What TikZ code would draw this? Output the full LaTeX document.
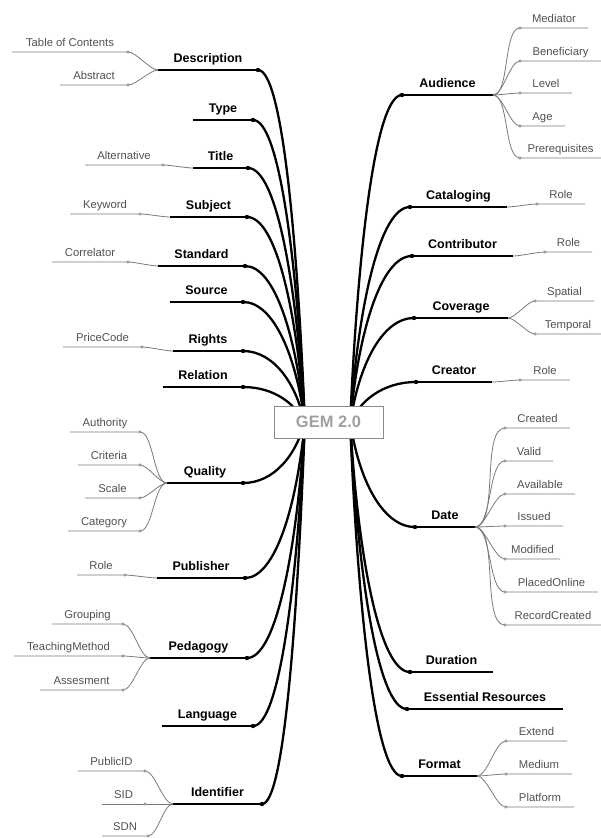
\documentclass[tikz,border=0pt]{standalone}
\usepackage{fontspec}
\setmainfont{Liberation Sans}
\definecolor{subtxt}{HTML}{505050}
\definecolor{subln}{HTML}{7A7A7A}
\definecolor{boxc}{HTML}{8A8A8A}
\definecolor{gemtxt}{HTML}{A0A0A0}
\tikzset{
  mainlbl/.style={anchor=base, inner sep=0pt, font=\fontsize{12.5}{14}\selectfont\bfseries},
  sublbl/.style={anchor=base, inner sep=0pt, text=subtxt, font=\fontsize{11.3}{13}\selectfont},
  mainline/.style={line width=2.2pt, black},
  trunk/.style={line width=2.3pt, black},
  subline/.style={line width=0.8pt, subln},
  sublink/.style={out=0, in=180, looseness=0.6},
  subdot/.style={line width=0.6pt, draw=subln, fill=white},
  gembox/.style={draw=boxc, fill=white, line width=1pt, minimum width=109pt, minimum height=32pt,
    inner sep=0pt, text=gemtxt, font=\fontsize{16.5}{18}\selectfont\bfseries}
}
% left main branch: id, label, x-outer, x-inner, y, hub y
\newcommand\mainL[6]{%
  \coordinate (#1-o) at (#3,#5);
  \coordinate (#1-i) at (#4,#5);
  \coordinate (#1-h) at (305,#6);
  \node[mainlbl] (#1) at ({(#3+#4)/2},{#5-7.5}) {#2};
  \draw[trunk] (#1-i) .. controls +({0.5*(305-#4)},0) and +(-8,{-0.55*(#6-#5)}) .. (#1-h);
  \draw[mainline] (#1-o) -- (#1-i);
  \fill (#1-i) circle (2.2pt);
}
% right main branch: id, label, x-inner, x-outer, y, hub y
\newcommand\mainR[6]{%
  \coordinate (#1-i) at (#3,#5);
  \coordinate (#1-o) at (#4,#5);
  \coordinate (#1-h) at (350,#6);
  \node[mainlbl] (#1) at ({(#3+#4)/2},{#5-7.5}) {#2};
  \draw[trunk] (#1-i) .. controls +({0.5*(350-#3)},0) and +(8,{-0.55*(#6-#5)}) .. (#1-h);
  \draw[mainline] (#1-i) -- (#1-o);
  \fill (#1-i) circle (2.2pt);
}
% left sub branch: id, label, x-outer, x-inner, y, parent
\newcommand\subL[6]{%
  \coordinate (#1-o) at (#3,#5);
  \coordinate (#1-i) at (#4,#5);
  \node[sublbl] (#1) at ({(#3+#4)/2},{#5-6}) {#2};
  \draw[subline] (#1-o) -- (#1-i) to[sublink] (#6-o);
  \draw[subdot] (#1-i) circle (1.3pt);
}
% right sub branch: id, label, x-inner, x-outer, y, parent
\newcommand\subR[6]{%
  \coordinate (#1-i) at (#3,#5);
  \coordinate (#1-o) at (#4,#5);
  \node[sublbl] (#1) at ({(#3+#4)/2},{#5-6}) {#2};
  \draw[subline] (#6-o) to[sublink] (#1-i) -- (#1-o);
  \draw[subdot] (#1-i) circle (1.3pt);
}
\begin{document}
\begin{tikzpicture}[x=1pt,y=-1pt]
\useasboundingbox (0,0) rectangle (601,838);
% left, top
\mainL{D}{Description}{158}{258}{70}{425}
\mainL{Ty}{Type}{193}{253}{120}{425}
\mainL{Ti}{Title}{193}{248}{168}{425}
\mainL{Su}{Subject}{170}{247}{217}{425}
\mainL{St}{Standard}{158}{245}{266}{425}
\mainL{So}{Source}{170}{243}{302}{425}
\mainL{Ri}{Rights}{173}{243}{351}{425}
\mainL{Re}{Relation}{163}{243}{387}{425}
% left, bottom
\mainL{Q}{Quality}{167}{243}{483}{420}
\mainL{Pu}{Publisher}{157}{245}{578}{420}
\mainL{Pe}{Pedagogy}{150}{247}{658}{420}
\mainL{La}{Language}{162}{253}{726}{420}
\mainL{Id}{Identifier}{173}{262}{804}{420}
% right, top
\mainR{Au}{Audience}{402}{493}{95}{425}
\mainR{Ca}{Cataloging}{410}{507}{207}{425}
\mainR{Co}{Contributor}{412}{513}{256}{425}
\mainR{Cv}{Coverage}{414}{508}{318}{425}
\mainR{Cr}{Creator}{416}{492}{382}{425}
% right, bottom
\mainR{Da}{Date}{415}{475}{527}{420}
\mainR{Du}{Duration}{410}{493}{672}{420}
\mainR{Es}{Essential Resources}{407}{563}{709}{420}
\mainR{Fo}{Format}{402}{477}{776}{420}
% left subs
\subL{toc}{Table of Contents}{12}{128}{52}{D}
\subL{abs}{Abstract}{60}{128}{85}{D}
\subL{alt}{Alternative}{85}{163}{165}{Ti}
\subL{kw}{Keyword}{70}{140}{214}{Su}
\subL{cor}{Correlator}{52}{128}{262}{St}
\subL{pc}{PriceCode}{63}{142}{347}{Ri}
\subL{aut}{Authority}{70}{140}{432}{Q}
\subL{cri}{Criteria}{78}{140}{465}{Q}
\subL{sca}{Scale}{85}{140}{498}{Q}
\subL{cat}{Category}{68}{140}{531}{Q}
\subL{prole}{Role}{77}{125}{575}{Pu}
\subL{grp}{Grouping}{52}{123}{624}{Pe}
\subL{tm}{TeachingMethod}{14}{123}{656}{Pe}
\subL{ass}{Assesment}{40}{123}{690}{Pe}
\subL{pid}{PublicID}{78}{145}{771}{Id}
\subL{sid}{SID}{102}{145}{804}{Id}
\subL{sdn}{SDN}{102}{148}{836}{Id}
% right subs
\subR{med}{Mediator}{520}{588}{28}{Au}
\subR{ben}{Beneficiary}{520}{601}{61}{Au}
\subR{lev}{Level}{520}{572}{93}{Au}
\subR{age}{Age}{520}{565}{126}{Au}
\subR{pre}{Prerequisites}{520}{601}{158}{Au}
\subR{carole}{Role}{537}{585}{204}{Ca}
\subR{corole}{Role}{545}{592}{252}{Co}
\subR{spa}{Spatial}{535}{594}{301}{Cv}
\subR{tem}{Temporal}{535}{601}{334}{Cv}
\subR{crrole}{Role}{520}{570}{380}{Cr}
\subR{crd}{Created}{505}{570}{428}{Da}
\subR{val}{Valid}{505}{553}{461}{Da}
\subR{ava}{Available}{505}{575}{494}{Da}
\subR{iss}{Issued}{505}{563}{526}{Da}
\subR{mod}{Modified}{505}{560}{559}{Da}
\subR{plo}{PlacedOnline}{505}{598}{592}{Da}
\subR{rec}{RecordCreated}{505}{601}{625}{Da}
\subR{ext}{Extend}{506}{567}{741}{Fo}
\subR{medi}{Medium}{506}{572}{774}{Fo}
\subR{pla}{Platform}{506}{574}{807}{Fo}
% centre
\node[gembox] (gem) at (328.5,422) {GEM 2.0};
\end{tikzpicture}
\end{document}
